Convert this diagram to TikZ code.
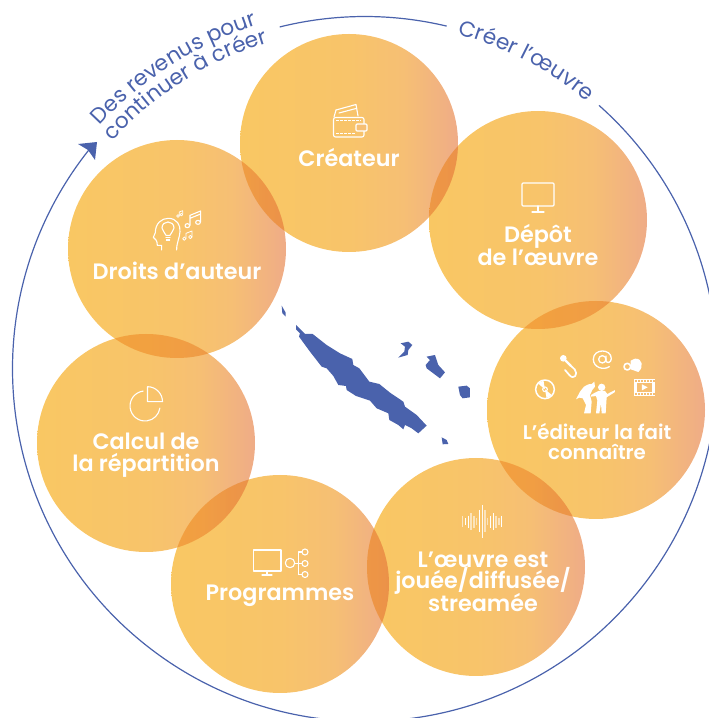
\documentclass[tikz,border=0pt]{standalone}
\usepackage{fontspec}
\setmainfont[BoldFont={Poppins SemiBold}]{Poppins}
\usetikzlibrary{decorations.text}
\definecolor{navy}{HTML}{4A62AC}
\definecolor{warmA}{HTML}{F9C763}
\definecolor{warmM}{HTML}{F8C46A}
\definecolor{warmB}{HTML}{F6BF74}
\definecolor{warmC}{HTML}{EFAC87}
\pgfdeclarehorizontalshading{bubbleshade}{100bp}{color(0bp)=(warmA); color(25bp)=(warmA); color(50bp)=(warmM); color(62.5bp)=(warmB); color(75bp)=(warmC); color(100bp)=(warmC)}
\tikzset{
  bubble/.style={circle,draw=none,inner sep=0pt,minimum size=218pt,shading=bubbleshade},
  lab/.style={text=white,font=\fontsize{22.3}{22}\selectfont\bfseries,align=center,inner sep=0pt},
  smalllab/.style={text=white,font=\fontsize{19.8}{20}\selectfont\bfseries,align=center,inner sep=0pt},
  ring/.style={draw=navy,line width=1.2pt},
  icon/.style={draw=white,line width=1.1pt,line join=round,line cap=round},
  land/.style={fill=navy,draw=none}
}
\newcommand{\curvefont}{\fontsize{21.7}{21.7}\selectfont}
\begin{document}
\begin{tikzpicture}[x=1pt,y=1pt]
\useasboundingbox (0,0) rectangle (709,718);
\begin{scope}
\clip (0,0) rectangle (709,718);
% texts on the ring
\path[decorate,decoration={text along path,text align=left,text={|\curvefont\color{navy}|Des revenus pour}}]
  (365,349) ++(137.4:360) arc[start angle=137.4,end angle=95,radius=360];
\path[decorate,decoration={text along path,text align=left,text={|\curvefont\color{navy}|continuer à créer}}]
  (365,349) ++(137.9:340) arc[start angle=137.9,end angle=95,radius=340];
\path[decorate,decoration={text along path,text align=left,text={|\curvefont\color{navy}|Créer l’œuvre}}]
  (365,349) ++(74.5:347.5) arc[start angle=74.5,end angle=35,radius=347.5];
\begin{scope}[shift={(0,718)},y=-1pt]
  \coordinate (hub) at (365,369);
  % ring
  \draw[ring] (hub) ++(218.7:352.5) arc[start angle=218.7,end angle=-48.4,radius=352.5];
  \draw[ring] (hub) ++(-104:352.5) arc[start angle=-104,end angle=-76.6,radius=352.5];
  \fill[navy] (97,142) -- (78,144) -- (88,150) -- (95,160) -- cycle;
  % bubbles
  \begin{scope}[blend mode=multiply]
    \node[bubble] (createur) at (349,143) {};
    \node[bubble] (depot) at (538,220) {};
    \node[bubble] (editeur) at (596,410) {};
    \node[bubble] (oeuvre) at (476,567) {};
    \node[bubble] (prog) at (280,584) {};
    \node[bubble] (calcul) at (146,443) {};
    \node[bubble] (droits) at (177,249) {};
  \end{scope}
  % lighten the overlaps a little
  \foreach \pa/\pb in {createur/depot,depot/editeur,editeur/oeuvre,oeuvre/prog,prog/calcul,calcul/droits,droits/createur} {
    \begin{scope}
      \clip (\pa.center) circle[radius=109];
      \fill[white,opacity=.1] (\pb.center) circle[radius=109];
    \end{scope}
  }
  % labels
  \node[lab] (t1) at (349,158) {Créateur};
  \node[lab] (t2) at (538,245) {Dépôt\\de l’œuvre};
  \node[smalllab] (t3) at (597,442) {L’éditeur la fait\\connaître};
  \node[lab] (t4) at (483,582) {L’œuvre est\\[-1.5pt]jouée/diffusée/\\[-1.5pt]streamée};
  \node[lab] (t5) at (280,596) {Programmes};
  \node[lab] (t6) at (146,455) {Calcul de\\la répartition};
  \node[lab] (t7) at (177,271) {Droits d’auteur};
  % wallet
  \draw[icon,rounded corners=2pt] (333.5,117.5) rectangle (364,137);
  \draw[icon] (336,110) -- (356,104.5) -- (358,116);
  \draw[icon] (339,113) -- (356,108.5);
  \draw[icon] (336,110) -- (334,117);
  \draw[icon,rounded corners=1pt,fill=warmB] (356,124) rectangle (367,131);
  \draw[white,line width=1pt,dash pattern=on 2.5pt off 1.5pt] (336,120.5) -- (361,120.5);
  \draw[white,line width=1pt,dash pattern=on 2.5pt off 1.5pt] (336,134) -- (356,134);
  % monitor (depot)
  \draw[icon,rounded corners=1pt] (522,183) rectangle (554,206);
  \draw[icon] (538,206) -- (538,212) (532,212) -- (544,212);
  % pie
  \draw[icon] (143.2,391.1) arc[start angle=-97,end angle=-352,radius=15];
  \draw[icon] (147.5,387.5) -- (147.5,401.7) -- (162.5,401.7) arc[start angle=0,end angle=-90,radius=15] -- cycle;
  % programmes
  \draw[icon] (253.5,550) rectangle (281,571);
  \draw[icon] (267,571) -- (267,575) (262,575) -- (272,575);
  \draw[icon] (290,563) circle[radius=4.7];
  \draw[icon] (305,552) circle[radius=3] (305,563.5) circle[radius=3] (305,574.5) circle[radius=3];
  \draw[icon] (294.7,563.5) -- (302,563.5) (298.5,552) -- (298.5,574.5) (298.5,552) -- (302,552) (298.5,574.5) -- (302,574.5);
  % head with bulb and notes
  \begin{scope}[shift={(130,200)},x=0.3333pt,y=-0.3333pt]
    \draw[icon,line width=1.1pt] (95,150) -- (95,136) -- (82,136) .. controls (80,128) and (82,122) .. (78,120)
      -- (70,112) -- (76,98) .. controls (76,70) and (95,55) .. (115,55)
      .. controls (140,55) and (152,75) .. (150,95) .. controls (149,115) and (140,125) .. (140,150);
    \draw[icon] (108,106) .. controls (106,96) and (96,94) .. (96,84) .. controls (96,60) and (132,60) .. (132,84)
      .. controls (132,94) and (122,96) .. (120,106) -- cycle;
    \draw[icon] (108,113) -- (120,113) (109,120) -- (119,120);
    % big note
    \draw[icon,line width=1.1pt] (180,76) -- (180,46) -- (212,33) -- (212,66) (180,55) -- (212,42);
    \draw[icon,line width=1.1pt] (172,77) circle[x radius=7,y radius=6] (204,67) circle[x radius=7,y radius=6];
    % small notes
    \draw[icon,line width=.7pt] (148,47) -- (148,36) -- (158,32) -- (158,43);
    \draw[icon,line width=.7pt] (144,48) circle[radius=4] (154,44) circle[radius=4];
    \draw[icon,line width=.8pt] (168,115) -- (168,100) -- (186,93) -- (186,110);
    \draw[icon,line width=.8pt] (163,116) circle[radius=5] (181,111) circle[radius=5];
  \end{scope}
  % editeur icons
  \begin{scope}[shift={(510,330)},x=0.3333pt,y=-0.3333pt]
    \fill[white] (160,85) circle[radius=10];
    \draw[white,line width=2.4pt,line cap=round] (167,92) -- (182,107);
    \draw[icon,line width=1.7pt] (182,107) -- (194,118) .. controls (206,132) and (192,152) .. (178,135) -- (165,120);
    \draw[icon,line width=1.3pt] (277,88) circle[radius=11];
    \draw[icon,line width=1.3pt] (288,78) -- (288,92) .. controls (290,102) and (304,98) .. (304,86)
      .. controls (304,55) and (250,55) .. (250,88) .. controls (250,112) and (280,122) .. (298,110);
    \draw[icon,line width=1.5pt] (105,178) circle[radius=28];
    \fill[white] (105,178) -- ++(40:26) arc[start angle=40,end angle=80,radius=26] -- cycle;
    \fill[white] (105,178) -- ++(220:26) arc[start angle=220,end angle=260,radius=26] -- cycle;
    \draw[icon,line width=1.2pt] (105,178) circle[radius=7];
    % megaphone
    \fill[white] (362,92) -- (375,86) .. controls (398,84) and (402,112) .. (385,126) -- (362,118) -- cycle;
    \draw[icon,line width=1.6pt] (352,110) circle[radius=10];
    % film
    \fill[white] (372,148) rectangle (435,197);
    \fill[warmB] (380,160) rectangle (427,185);
    \foreach \k in {0,1,...,6} {\fill[warmB] (376+\k*9,151) rectangle ++(5,5); \fill[warmB] (376+\k*9,189) rectangle ++(5,5);}
    \fill[white] (396,163) -- (413,172) -- (396,181) -- cycle;
  \end{scope}
  % dancers
  \begin{scope}[shift={(560,370)},x=0.3333pt,y=-0.3333pt]
    \fill[white] (48,88) -- (60,65) -- (72,50) -- (85,43) -- (95,42) -- (103,35) -- (105,50) -- (97,60) -- (90,75) -- (95,95) -- (92,130) -- (72,130) -- (78,105) -- (68,85) -- (58,83) -- cycle;
    \fill[white] (125,52) circle[radius=11];
    \fill[white] (93,75) -- (105,68) -- (115,63) -- (135,63) -- (142,72) -- (165,60) -- (165,66) -- (140,82) -- (137,130) -- (125,130) -- (123,100) -- (118,130) -- (108,130) -- (112,92) -- (108,78) -- (93,80) -- cycle;
  \end{scope}
  % sound wave
  \begin{scope}[shift={(450,495)},x=0.3333pt,y=-0.3333pt]
    \foreach \px/\a/\b/\o in {38/62/95/.6,46/70/90/1,55/62/100/1,63/55/105/.55,72/62/100/.55,80/70/90/.55,88/45/112/1,97/30/128/.9,105/45/112/.55,113/70/90/.55,122/62/98/1,130/55/105/1,138/62/98/.55,147/70/90/.55,155/62/95/1}
      \draw[white,opacity=\o,line width=1.2pt] (\px,\a) -- (\px,\b);
  \end{scope}
  % islands
  \begin{scope}[shift={(270,290)},x=0.3333pt,y=-0.3333pt]
    \fill[land] (78,105) -- (105,132) -- (128,132) -- (170,165) -- (210,190) -- (247,207) -- (250,225) -- (268,235) -- (298,275) -- (328,282) -- (360,308) -- (400,335) -- (405,350) -- (440,375) -- (470,407) -- (445,430) -- (425,415) -- (405,405) -- (400,418) -- (385,405) -- (358,390) -- (355,370) -- (320,355) -- (300,332) -- (258,318) -- (230,300) -- (228,288) -- (205,285) -- (190,258) -- (170,235) -- (155,230) -- (120,185) -- (87,140) -- (90,130) -- (78,118) -- cycle;
    \fill[land] (35,47) -- (47,68) -- (47,80) -- (37,70) -- cycle;
    \fill[land] (392,160) -- (415,155) -- (427,165) -- (415,180) -- (413,195) -- (385,203) -- (403,185) -- (405,170) -- cycle;
    \fill[land] (470,200) -- (495,195) -- (505,225) -- (525,247) -- (510,265) -- (490,250) -- (470,235) -- (467,225) -- (480,210) -- cycle;
    \fill[land] (565,290) -- (590,287) -- (600,295) -- (600,322) -- (578,325) -- (570,315) -- cycle;
    \fill[land] (515,442) -- (530,450) -- (535,462) -- (518,463) -- cycle;
  \end{scope}
\end{scope}
\end{scope}
\end{tikzpicture}
\end{document}
